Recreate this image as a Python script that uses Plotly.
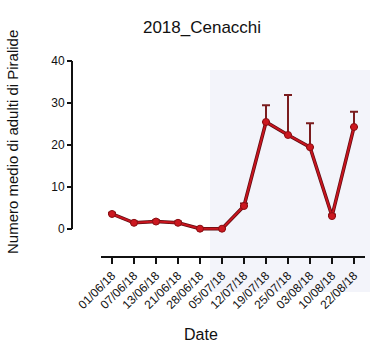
import plotly.graph_objects as go

# Sampling dates and mean number of adult moths (with SEM, upper bars)
dates = ['01/06/18', '07/06/18', '13/06/18', '21/06/18', '28/06/18', '05/07/18',
         '12/07/18', '19/07/18', '25/07/18', '03/08/18', '10/08/18', '22/08/18']
means = [3.6, 1.5, 1.8, 1.5, 0.1, 0.1, 5.5, 25.5, 22.4, 19.5, 3.1, 24.3]
errors = [0.3, 0.3, 0.3, 0.3, 0.1, 0.1, 0.6, 4.0, 9.5, 5.7, 0.4, 3.6]
y_ticks = [0, 10, 20, 30, 40]

FONT = "Arial, Liberation Sans, sans-serif"
INK = "#111111"

fig = go.Figure()

# dark under-stroke of the line, carrying the upper error bars
fig.add_trace(go.Scatter(
    x=dates, y=means, mode="lines",
    line=dict(color="#5e0c10", width=3.5),
    error_y=dict(type="data", array=errors, arrayminus=[0] * len(errors),
                 symmetric=False, color="#7a1c1e", thickness=2, width=4),
    hoverinfo="skip", showlegend=False,
))
# red line with markers on top
fig.add_trace(go.Scatter(
    x=dates, y=means, mode="lines+markers",
    line=dict(color="#c8141e", width=2),
    marker=dict(size=7, color="#cc1820", line=dict(color="#8a0e12", width=1)),
    showlegend=False,
))

fig.update_layout(
    width=370, height=349,
    margin=dict(l=72, r=5, t=61, b=93),
    paper_bgcolor="white", plot_bgcolor="rgba(0,0,0,0)",
    font=dict(family=FONT, color=INK, size=12),
    title=dict(text="2018_Cenacchi", font=dict(size=17, family=FONT, color=INK),
               xref="container", x=0.546, xanchor="center",
               yref="container", y=1 - 27 / 349, yanchor="middle"),
    xaxis=dict(
        type="category", domain=[29 / 293, 1], range=[-0.5, 11.5],
        showline=True, linecolor=INK, linewidth=2,
        ticks="outside", ticklen=6, tickwidth=2, tickcolor=INK,
        tickangle=-45, tickfont=dict(size=12, family=FONT, color=INK),
        showgrid=False, zeroline=False,
    ),
    yaxis=dict(
        range=[-6.4, 40], anchor="free", position=0,
        tickvals=y_ticks, ticktext=[str(v) for v in y_ticks],
        showline=False, ticks="outside", ticklen=5, tickwidth=2, tickcolor=INK,
        tickfont=dict(size=12, family=FONT, color=INK),
        showgrid=False, zeroline=False,
    ),
    shapes=[
        # faint tinted patch behind the right part of the plot
        dict(type="rect", xref="paper", yref="paper",
             x0=(210 - 72) / 293, x1=(370 - 72) / 293,
             y0=(256 - 292) / 195, y1=(256 - 70) / 195,
             fillcolor="#f3f4fa", line=dict(width=0), layer="below"),
        # y axis line spanning only 0..40
        dict(type="line", xref="paper", yref="y", x0=0, x1=0, y0=0, y1=40,
             line=dict(color=INK, width=2)),
    ],
    annotations=[
        dict(text="Numero medio di adulti di Piralide", textangle=-90,
             xref="paper", yref="paper", x=(12 - 72) / 293, y=(256 - 142) / 195,
             xanchor="center", yanchor="middle", showarrow=False,
             font=dict(size=15, family=FONT, color=INK)),
        dict(text="Date", xref="paper", yref="paper",
             x=(201 - 72) / 293, y=(256 - 334) / 195,
             xanchor="center", yanchor="middle", showarrow=False,
             font=dict(size=16, family=FONT, color=INK)),
    ],
)

fig.write_html("out.html")
